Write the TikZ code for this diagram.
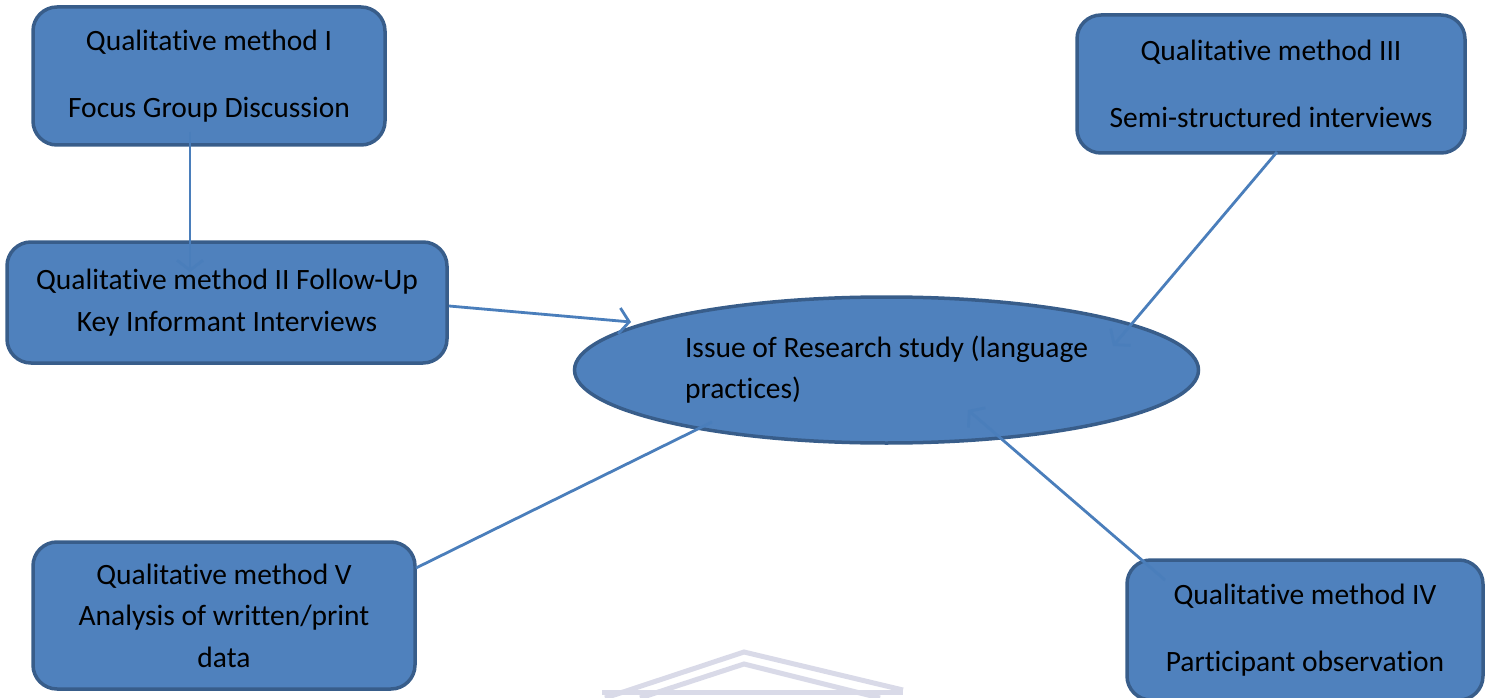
\documentclass[tikz,border=0pt]{standalone}
\usepackage{fontspec}
\setmainfont[Ligatures={NoCommon}]{Carlito}
\usetikzlibrary{arrows.meta,shapes.geometric}
\definecolor{boxfill}{HTML}{4F81BD}
\definecolor{boxline}{HTML}{385D8A}
\definecolor{conn}{HTML}{4A7EBB}
\definecolor{wm}{HTML}{D9DAE8}
\tikzset{
  methodbox/.style={draw=boxline, fill=boxfill, line width=3.5pt, rounded corners=24pt,
    align=center, inner sep=0pt, font=\fontsize{29.5}{41.5}\selectfont, text=black},
  issue/.style={draw=boxline, fill=boxfill, line width=3.5pt, ellipse, inner sep=0pt,
    minimum width=624pt, minimum height=146pt, align=left,
    font=\fontsize{29.5}{41}\selectfont, text=black},
  conline/.style={draw=conn, line width=2.8pt},
  conarrow/.style={conline, -{Straight Barb[length=10pt,width=26pt,line width=2.8pt]}},
  watermark/.style={draw=wm, line width=5pt}
}
\begin{document}
\begin{tikzpicture}[x=1pt,y=-1pt]
\useasboundingbox (0,0) rectangle (1492,698);
% watermark
\draw[watermark] (605,698) -- (744,652) -- (903,690);
\draw[watermark] (640,698) -- (744,664) -- (880,698);
\draw[watermark] (602,692) -- (903,692);
% boxes
\node[methodbox, minimum width=352pt, minimum height=138pt] (m1) at (209,76)
  {Qualitative method I\\[26pt]Focus Group Discussion};
\node[methodbox, minimum width=440pt, minimum height=121pt] (m2) at (227,302.5)
  {Qualitative method II Follow-Up\\Key Informant Interviews};
\node[methodbox, minimum width=388pt, minimum height=138pt] (m3) at (1271,84)
  {Qualitative method III\\[26pt]Semi-structured interviews};
\node[methodbox, minimum width=382pt, minimum height=147pt] (m5) at (224,615.5)
  {Qualitative method V\\Analysis of written/print\\data};
\node[methodbox, minimum width=356pt, minimum height=140pt] (m4) at (1305,630)
  {Qualitative method IV\\[26pt]Participant observation};
\node[issue] (c) at (886.5,370)
  {Issue of Research study (language\\practices)};
% connector end points
\coordinate (s1) at (190,132);
\coordinate (e1) at (190,272);
\coordinate (s2) at (449,306);
\coordinate (e2) at (631,322);
\coordinate (s3) at (1277,152);
\coordinate (e3) at (1113,346);
\coordinate (s5) at (416,568);
\coordinate (e5) at (712,422);
\coordinate (s4) at (1165,580);
\coordinate (e4) at (968,410);
% connectors
\draw[conarrow] (s1) -- (e1);
\draw[conarrow] (s2) -- (e2);
\draw[conarrow] (s3) -- (e3);
\draw[conline] (s5) -- (e5);
\draw[conarrow] (s4) -- (e4);
\end{tikzpicture}
\end{document}
